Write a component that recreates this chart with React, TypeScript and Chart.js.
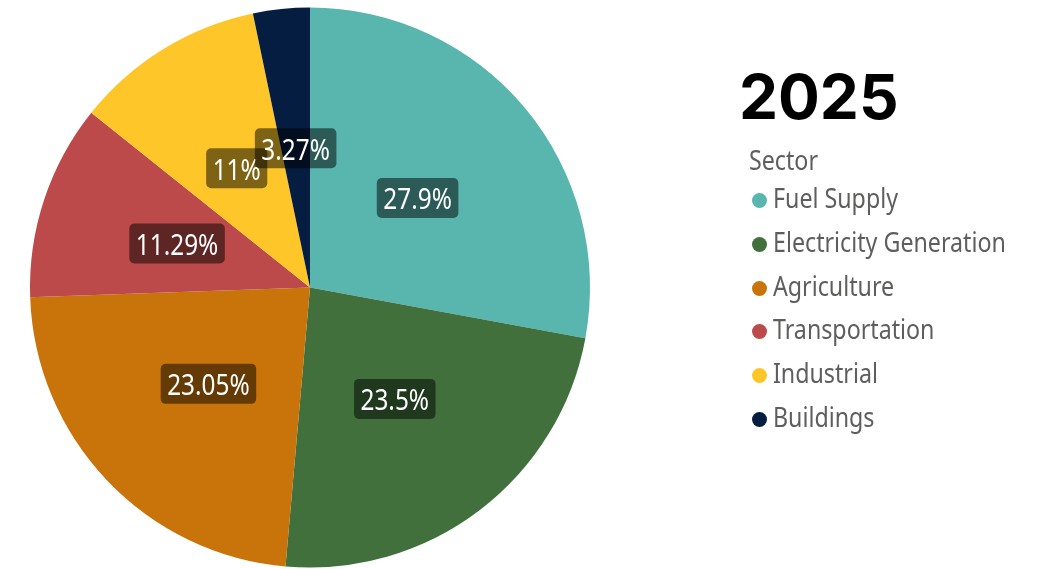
import React, { useEffect, useRef } from "react";
import { Chart, registerables } from "chart.js";

Chart.register(...registerables);

const titleText = "2025";
const legendTitle = "Sector";
const sectors = ["Fuel Supply", "Electricity Generation", "Agriculture", "Transportation", "Industrial", "Buildings"];
const shares = [27.9, 23.5, 23.05, 11.29, 11, 3.27];
const colors = ["#58B6AE", "#41703D", "#C8740A", "#BD4A4A", "#FFC629", "#051D41"];

const LABEL_FONT_PX = 29;
const SQUEEZE = 0.84;

const labelPlugin = {
  id: "sliceLabels",
  afterDatasetsDraw(chart: any) {
    const ctx = chart.ctx;
    const meta = chart.getDatasetMeta(0);
    const data = chart.data.datasets[0].data as number[];
    ctx.save();
    ctx.font = `${LABEL_FONT_PX}px 'Noto Sans', 'Open Sans', sans-serif`;
    ctx.textAlign = "center";
    ctx.textBaseline = "alphabetic";
    meta.data.forEach((arc: any, i: number) => {
      const p = arc.tooltipPosition();
      const text = `${data[i]}%`;
      const w = ctx.measureText(text).width * SQUEEZE + 13;
      const h = 40;
      ctx.fillStyle = "rgba(0,0,0,0.5)";
      ctx.beginPath();
      (ctx as any).roundRect(p.x - w / 2, p.y - h / 2, w, h, 5);
      ctx.fill();
      ctx.fillStyle = "#ffffff";
      ctx.save();
      ctx.translate(p.x, p.y + LABEL_FONT_PX * 0.357 + 1);
      ctx.scale(SQUEEZE, 1);
      ctx.fillText(text, 0, 0);
      ctx.restore();
    });
    ctx.restore();
  },
};

export default function App() {
  const ref = useRef<HTMLCanvasElement | null>(null);
  useEffect(() => {
    if (!ref.current) return;
    const chart = new Chart(ref.current, {
      type: "pie",
      data: {
        labels: sectors,
        datasets: [
          {
            data: shares,
            backgroundColor: colors,
            borderWidth: 0,
          },
        ],
      },
      options: {
        animation: false,
        responsive: false,
        maintainAspectRatio: false,
        layout: { padding: { top: 7, bottom: 1, left: 30, right: 463 } },
        plugins: {
          legend: { display: false },
          tooltip: { enabled: false },
        },
      },
      plugins: [labelPlugin],
    });
    return () => chart.destroy();
  }, []);

  const font = "'Noto Sans', 'Open Sans', sans-serif";
  const textStyle: React.CSSProperties = {
    display: "inline-block",
    fontFamily: font,
    fontSize: 27,
    color: "#605E5C",
    whiteSpace: "nowrap",
    transform: "scaleX(0.86)",
    transformOrigin: "left center",
  };
  return (
    <div style={{ position: "fixed", left: 0, top: 0, width: 1053, height: 569, background: "#fff", overflow: "hidden" }}>
      <canvas ref={ref} width={1053} height={569} style={{ position: "absolute", left: 0, top: 0 }} />
      <div
        style={{
          position: "absolute",
          left: 739,
          top: 59,
          fontFamily: "Inter, sans-serif",
          fontWeight: 700,
          fontSize: 62,
          lineHeight: "76px",
          color: "#000",
        }}
      >
        {titleText}
      </div>
      <div style={{ position: "absolute", left: 749, top: 144, height: 32, lineHeight: "32px" }}>
        <span style={{ ...textStyle, lineHeight: "32px" }}>{legendTitle}</span>
      </div>
      {sectors.map((s, i) => (
        <div
          key={s}
          style={{ position: "absolute", left: 752, top: 176 + i * 43.8, height: 44, lineHeight: "44px", width: 300 }}
        >
          <span
            style={{
              position: "absolute",
              left: 0,
              top: 17,
              width: 15,
              height: 15,
              borderRadius: 8,
              background: colors[i],
            }}
          />
          <span style={{ ...textStyle, lineHeight: "44px", position: "absolute", left: 21, top: 0 }}>{s}</span>
        </div>
      ))}
    </div>
  );
}
